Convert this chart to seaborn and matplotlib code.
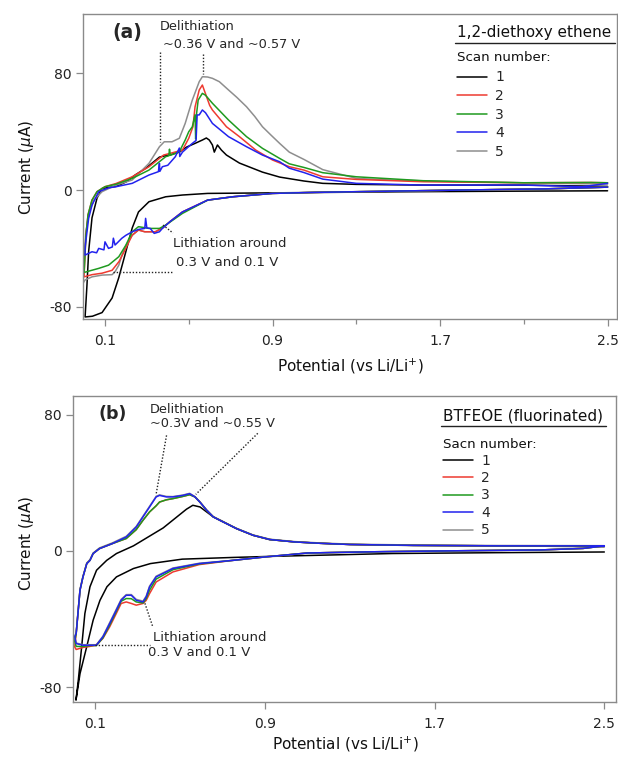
import matplotlib
matplotlib.use("Agg")
import matplotlib.pyplot as plt
from matplotlib.lines import Line2D
import pandas as pd
import seaborn as sns

# ---------------- data : panel (a) 1,2-diethoxy ethene ----------------
a1_cat_v = [2.50, 2.00, 1.50, 1.00, 0.75, 0.59, 0.47, 0.39, 0.31, 0.26, 0.23, 0.20, 0.166, 0.134, 0.086, 0.04, 0.005]
a1_cat_i = [-0.5, -0.8, -1.2, -1.8, -2.1, -2.3, -3.4, -4.6, -8.0, -15.0, -26.0, -42.0, -60.0, -74.0, -84.0, -86.5, -87.0]
a1_ano_v = [0.005, 0.014, 0.022, 0.038, 0.062, 0.086, 0.153, 0.20, 0.244, 0.30, 0.36, 0.42, 0.455, 0.49, 0.53, 0.565, 0.584,
            0.598, 0.613, 0.622, 0.637, 0.656, 0.68, 0.742, 0.852, 0.934, 1.05, 1.14, 1.30, 1.62, 2.10, 2.42, 2.50]
a1_ano_i = [-87.0, -65.0, -42.0, -19.0, -5.5, 1.1, 2.5, 5.5, 10.3, 15.5, 22.6, 24.5, 26.0, 29.5, 32.0, 34.3, 35.7,
            34.3, 30.9, 26.0, 30.9, 27.4, 24.0, 18.5, 12.3, 8.9, 6.2, 4.6, 3.9, 3.4, 3.4, 2.7, 2.5]

a2_cat_v = [2.50, 2.20, 1.80, 1.40, 1.10, 0.90, 0.71, 0.59, 0.47, 0.41, 0.375, 0.34, 0.29, 0.26, 0.23, 0.20, 0.167, 0.134, 0.086, 0.038, 0.0]
a2_cat_i = [2.0, 0.8, 0.0, -0.9, -1.6, -2.3, -4.6, -6.9, -15.0, -21.7, -26.0, -28.6, -28.6, -27.4, -30.9, -39.8, -49.0, -55.0, -57.0, -58.0, -59.5]
a2_ano_v = [0.0, 0.003, 0.009, 0.019, 0.038, 0.062, 0.10, 0.153, 0.23, 0.31, 0.38, 0.42, 0.47, 0.50, 0.52, 0.53, 0.55, 0.565,
            0.58, 0.60, 0.613, 0.68, 0.742, 0.82, 0.90, 0.98, 1.05, 1.14, 1.30, 1.62, 2.10, 2.42, 2.50]
a2_ano_i = [-59.5, -49.0, -31.0, -17.0, -6.9, -1.1, 2.3, 4.5, 9.1, 16.0, 24.0, 25.5, 27.4, 35.5, 43.4, 57.0, 68.6, 72.0,
            66.0, 58.0, 54.9, 43.4, 36.6, 27.4, 20.6, 16.0, 13.7, 9.1, 7.3, 5.7, 5.0, 5.2, 5.0]

a3_cat_v = [2.50, 2.20, 1.80, 1.40, 1.10, 0.90, 0.71, 0.59, 0.47, 0.39, 0.36, 0.31, 0.26, 0.23, 0.20, 0.166, 0.117, 0.07, 0.022, 0.0]
a3_cat_i = [2.0, 0.8, 0.0, -0.9, -1.6, -2.3, -4.6, -6.9, -16.0, -24.0, -26.3, -26.3, -25.1, -28.6, -37.7, -45.7, -51.5, -53.7, -55.6, -56.5]
a3_ano_v = [0.0, 0.003, 0.009, 0.019, 0.038, 0.062, 0.10, 0.153, 0.23, 0.31, 0.39, 0.405, 0.408, 0.412, 0.455, 0.483, 0.50,
            0.517, 0.53, 0.533, 0.537, 0.545, 0.565, 0.58, 0.613, 0.69, 0.776, 0.852, 0.934, 0.98, 1.05, 1.14, 1.30,
            1.62, 2.10, 2.42, 2.50]
a3_ano_i = [-56.5, -49.0, -31.0, -17.0, -6.9, -1.1, 2.3, 4.0, 8.0, 13.7, 22.9, 23.5, 28.0, 23.8, 26.3, 34.3, 40.0,
            43.4, 51.5, 35.0, 52.0, 61.7, 66.3, 65.0, 59.5, 48.0, 36.6, 28.6, 21.7, 18.0, 15.5, 11.9, 9.1,
            6.4, 5.0, 5.2, 5.0]

a4_cat_v = [2.50, 2.20, 1.80, 1.40, 1.10, 0.90, 0.71, 0.59, 0.47, 0.41, 0.374, 0.36, 0.335, 0.316, 0.30, 0.294, 0.29,
            0.26, 0.23, 0.20, 0.18, 0.16, 0.148, 0.14, 0.135, 0.117, 0.10, 0.095, 0.07, 0.06, 0.038, 0.004]
a4_cat_i = [2.0, 0.8, 0.0, -0.9, -1.6, -2.3, -4.6, -6.9, -15.0, -21.7, -26.3, -28.6, -29.7, -26.3, -26.0, -19.4, -26.3,
            -27.0, -28.6, -31.0, -33.1, -36.0, -37.7, -33.0, -39.0, -40.0, -35.5, -41.0, -40.0, -43.0, -42.3, -44.6]
a4_ano_v = [0.004, 0.006, 0.022, 0.038, 0.07, 0.117, 0.153, 0.23, 0.31, 0.355, 0.360, 0.362, 0.374, 0.40, 0.436, 0.455,
            0.457, 0.47, 0.517, 0.535, 0.540, 0.55, 0.565, 0.58, 0.613, 0.69, 0.776, 0.852, 0.934, 0.98, 1.05, 1.14,
            1.30, 1.62, 2.10, 2.38, 2.50]
a4_ano_i = [-44.6, -38.0, -19.4, -10.3, -1.1, 1.5, 2.3, 4.6, 10.3, 12.6, 18.3, 12.8, 16.0, 17.0, 22.9, 28.8,
            23.0, 26.0, 32.0, 34.0, 51.5, 51.5, 54.9, 53.0, 45.7, 36.6, 29.7, 24.0, 19.4, 15.0, 12.0, 7.5,
            4.6, 3.4, 3.4, 2.3, 4.6]

a5_cat_v = [2.50, 2.20, 1.80, 1.40, 1.10, 0.90, 0.71, 0.59, 0.47, 0.41, 0.375, 0.34, 0.29, 0.26, 0.23, 0.20, 0.18,
            0.166, 0.148, 0.134, 0.086, 0.038, 0.004, -0.005]
a5_cat_i = [2.0, 0.8, 0.0, -0.9, -1.6, -2.3, -4.6, -6.9, -15.0, -21.7, -26.0, -28.6, -28.6, -27.4, -31.0, -38.0, -45.0,
            -51.5, -56.0, -58.0, -58.3, -59.5, -61.7, -64.0]
a5_ano_v = [-0.005, 0.0, 0.008, 0.023, 0.047, 0.086, 0.153, 0.23, 0.31, 0.36, 0.383, 0.42, 0.455, 0.483, 0.517, 0.55,
            0.565, 0.59, 0.613, 0.646, 0.69, 0.73, 0.776, 0.815, 0.852, 0.894, 0.934, 0.98, 1.05, 1.14, 1.30, 1.46,
            1.78, 2.26, 2.50]
a5_ano_i = [-64.0, -52.6, -29.7, -16.0, -6.9, -1.1, 3.4, 6.9, 18.3, 29.7, 33.1, 33.1, 35.5, 45.7, 61.7, 74.3,
            77.7, 77.5, 76.6, 74.3, 68.6, 63.5, 57.1, 50.5, 43.4, 37.5, 32.0, 26.0, 21.0, 14.0, 8.0, 6.9,
            5.7, 4.6, 4.1]

# ---------------- data : panel (b) BTFEOE (fluorinated) ----------------
b1_cat_v = [2.50, 2.00, 1.50, 1.16, 0.92, 0.75, 0.51, 0.36, 0.28, 0.20, 0.155, 0.122, 0.09, 0.06, 0.028, 0.009]
b1_cat_i = [-0.6, -1.0, -1.5, -2.5, -3.2, -3.8, -4.8, -7.4, -10.3, -15.2, -21.0, -29.0, -40.6, -56.0, -72.0, -87.5]
b1_ano_v = [0.009, 0.02, 0.036, 0.051, 0.075, 0.106, 0.154, 0.20, 0.28, 0.34, 0.42, 0.48, 0.53, 0.56, 0.594, 0.625,
            0.656, 0.69, 0.766, 0.844, 0.92, 1.04, 1.16, 1.30, 1.60, 2.00, 2.50]
b1_ano_i = [-87.5, -75.8, -56.0, -36.7, -21.0, -11.3, -5.5, -1.5, 3.0, 7.5, 13.5, 19.5, 24.5, 26.8, 25.8, 22.9,
            20.0, 18.0, 13.1, 9.2, 6.7, 5.3, 4.5, 3.8, 3.2, 3.0, 2.5]

b_cat_v = [2.50, 2.40, 2.20, 1.80, 1.40, 1.10, 0.90, 0.75, 0.59, 0.466, 0.387, 0.356, 0.34, 0.325, 0.293, 0.27, 0.246,
           0.222, 0.199, 0.168, 0.136, 0.105, 0.074, 0.042, 0.01, 0.003]
b2_cat_i = [3.0, 1.5, 0.6, 0.1, -0.5, -1.2, -3.5, -5.5, -8.0, -12.3, -18.2, -25.0, -29.0, -30.8, -31.8, -30.8, -29.9,
            -30.8, -36.7, -44.5, -51.3, -55.3, -56.0, -56.6, -57.8, -56.3]
b3_cat_i = [3.0, 1.5, 0.6, 0.1, -0.5, -1.2, -3.5, -5.5, -7.6, -11.0, -16.5, -23.0, -28.0, -30.5, -29.9, -28.0, -27.9,
            -29.5, -35.5, -43.5, -51.0, -55.5, -55.5, -56.0, -56.0, -53.0]
b4_cat_i = [3.0, 1.5, 0.6, 0.1, -0.5, -1.2, -3.5, -5.5, -7.4, -10.3, -15.2, -21.1, -27.0, -29.9, -28.9, -26.0, -26.0,
            -28.9, -34.8, -42.6, -50.4, -55.3, -55.3, -55.3, -54.3, -50.4]
b5_cat_i = [3.0, 1.5, 0.6, 0.1, -0.5, -1.2, -3.5, -5.5, -7.2, -10.0, -14.8, -20.6, -26.5, -29.4, -28.4, -25.6, -25.6,
            -28.4, -34.2, -42.0, -50.0, -55.0, -55.0, -55.0, -54.0, -50.0]

b_ano_v = [0.003, 0.01, 0.028, 0.042, 0.06, 0.075, 0.09, 0.12, 0.18, 0.246, 0.293, 0.325, 0.356, 0.387, 0.403, 0.435,
           0.466, 0.513, 0.545, 0.57, 0.593, 0.625, 0.656, 0.687, 0.766, 0.844, 0.923, 1.04, 1.16, 1.30, 1.60, 2.00, 2.50]
b2_ano_i = [-56.3, -48.4, -23.0, -15.2, -7.4, -5.5, -1.5, 1.4, 4.3, 7.3, 12.5, 18.0, 22.9, 26.5, 28.7, 30.0,
            30.7, 32.0, 33.0, 31.7, 28.7, 23.9, 20.0, 18.0, 13.1, 9.2, 6.7, 5.3, 4.5, 3.8, 3.3, 3.0, 3.0]
b3_ano_i = [-53.0, -48.4, -23.0, -15.2, -7.4, -5.5, -1.5, 1.4, 4.3, 7.3, 12.5, 18.0, 22.9, 26.5, 28.7, 30.0,
            30.7, 32.0, 33.0, 31.7, 28.7, 23.9, 20.0, 18.0, 13.1, 9.2, 6.7, 5.3, 4.5, 3.8, 3.3, 3.0, 3.0]
b4_ano_i = [-50.4, -48.4, -23.0, -15.2, -7.4, -5.5, -1.5, 1.4, 4.3, 8.2, 14.0, 20.0, 25.8, 31.7, 32.6, 31.7,
            31.7, 32.6, 33.6, 31.7, 28.7, 23.9, 20.0, 18.0, 13.1, 9.2, 6.7, 5.3, 4.5, 3.8, 3.3, 3.0, 3.0]
b5_ano_i = [-50.0, -48.0, -22.6, -14.8, -7.0, -5.1, -1.2, 1.8, 4.7, 8.6, 14.4, 20.4, 26.2, 32.0, 32.9, 32.0,
            31.9, 32.8, 33.8, 31.9, 28.9, 24.1, 20.2, 18.2, 13.3, 9.4, 6.9, 5.5, 4.7, 4.0, 3.5, 3.2, 3.1]

scan_labels = ["1", "2", "3", "4", "5"]
scan_colors = ["#000000", "#ee3a30", "#1f9a1f", "#2222ee", "#8e8e8e"]
draw_order = ["1", "5", "2", "3", "4"]

panel_a = {
    "1": (a1_cat_v, a1_cat_i, a1_ano_v, a1_ano_i),
    "2": (a2_cat_v, a2_cat_i, a2_ano_v, a2_ano_i),
    "3": (a3_cat_v, a3_cat_i, a3_ano_v, a3_ano_i),
    "4": (a4_cat_v, a4_cat_i, a4_ano_v, a4_ano_i),
    "5": (a5_cat_v, a5_cat_i, a5_ano_v, a5_ano_i),
}
panel_b = {
    "1": (b1_cat_v, b1_cat_i, b1_ano_v, b1_ano_i),
    "2": (b_cat_v, b2_cat_i, b_ano_v, b2_ano_i),
    "3": (b_cat_v, b3_cat_i, b_ano_v, b3_ano_i),
    "4": (b_cat_v, b4_cat_i, b_ano_v, b4_ano_i),
    "5": (b_cat_v, b5_cat_i, b_ano_v, b5_ano_i),
}


def build(panel):
    rows = []
    for scan in draw_order:
        vc, ic, va, ia = panel[scan]
        v = list(vc) + list(va)
        i = list(ic) + list(ia)
        for k, (x, y) in enumerate(zip(v, i)):
            rows.append((x, y, scan, k))
    return pd.DataFrame(rows, columns=["V", "I", "scan", "k"])


sns.set_style("white")
plt.rcParams["font.family"] = ["DejaVu Sans"]
plt.rcParams["mathtext.fontset"] = "dejavusans"

W, H = 618, 758
fig = plt.figure(figsize=(W / 100, H / 100), dpi=100)
fig.patch.set_facecolor("white")

ax_a = fig.add_axes([83 / W, 1 - 319 / H, (617 - 83) / W, (319 - 14) / H])
ax_b = fig.add_axes([73 / W, 1 - 702 / H, (616 - 73) / W, (702 - 396) / H])

palette = dict(zip(scan_labels, scan_colors))
spine_col = "#8a8a8a"
dot = (0, (1, 1.3))
LW = 1.1


def style(ax, xlim, ylim, minor):
    ax.set_xlim(*xlim)
    ax.set_ylim(*ylim)
    ax.set_xlabel("")
    ax.set_ylabel("")
    ax.set_xticks([0.1, 0.9, 1.7, 2.5])
    ax.set_xticklabels(["0.1", "0.9", "1.7", "2.5"])
    if minor:
        ax.set_xticks([0.5, 1.3, 2.1], minor=True)
    ax.set_yticks([-80, 0, 80])
    ax.set_yticklabels(["-80", "0", "80"])
    for s in ax.spines.values():
        s.set_color(spine_col)
        s.set_linewidth(1.0)
        s.set_visible(True)
    ax.tick_params(axis="both", which="major", direction="out", length=5, width=0.9,
                   color=spine_col, labelsize=10, labelcolor="#222222", pad=6,
                   bottom=True, left=True)
    ax.tick_params(axis="x", which="minor", direction="out", length=3.5, width=0.9,
                   color=spine_col, bottom=True)
    ax.tick_params(axis="y", which="major", pad=3)
    ax.grid(False)


def draw(ax, panel):
    df = build(panel)
    sns.lineplot(data=df, x="V", y="I", hue="scan", hue_order=draw_order, palette=palette,
                 sort=False, estimator=None, linewidth=LW, legend=False, ax=ax)


def legend(ax, title, sub, x0, y_title, y_line, y_sub, x_end, y_leg, spacing):
    ax.text(x0, y_title, title, transform=ax.transAxes, fontsize=11, ha="left", va="center",
            color="#111111")
    ax.plot([x0 - 0.003, x_end], [y_line, y_line], transform=ax.transAxes, color="#222222",
            lw=1.0, clip_on=False)
    ax.text(x0 + 0.001, y_sub, sub, transform=ax.transAxes, fontsize=9.6, ha="left",
            va="center", color="#111111")
    handles = [Line2D([], [], color=c, lw=LW) for c in scan_colors]
    ax.legend(handles, scan_labels, loc="upper left", bbox_to_anchor=(x0, y_leg),
              frameon=False, fontsize=10, handlelength=2.15, handletextpad=0.6,
              labelspacing=spacing, borderpad=0, borderaxespad=0)


# ---------------- panel (a) ----------------
draw(ax_a, panel_a)
style(ax_a, (-0.005, 2.545), (-88.4, 120.7), True)
ax_a.text(0.205, 107.7, "(a)", fontsize=13.5, fontweight="bold", ha="center", va="center")
ax_a.text(0.363, 111.8, "Delithiation", fontsize=9.3, ha="left", va="center")
ax_a.text(0.377, 100.1, "~0.36 V and ~0.57 V", fontsize=9.3, ha="left", va="center")
ax_a.plot([0.363, 0.363], [94.6, 32.9], color="#222222", lw=1.0, ls=dot)
ax_a.plot([0.568, 0.568], [93.3, 79.5], color="#222222", lw=1.0, ls=dot)
ax_a.text(0.425, -36.3, "Lithiation around", fontsize=9.5, ha="left", va="center")
ax_a.text(0.439, -49.4, "0.3 V and 0.1 V", fontsize=9.5, ha="left", va="center")
ax_a.plot([0.377, 0.425], [-24.0, -29.5], color="#222222", lw=1.0, ls=dot)
ax_a.plot([0.138, 0.425], [-56.2, -56.2], color="#222222", lw=1.0, ls=dot)
legend(ax_a, "1,2-diethoxy ethene", "Scan number:", 0.700, 0.938, 0.905, 0.856, 0.996, 0.815, 0.33)

# ---------------- panel (b) ----------------
draw(ax_b, panel_b)
style(ax_b, (-0.005, 2.555), (-88.6, 90.9), False)
ax_b.text(0.183, 80.1, "(b)", fontsize=12.5, fontweight="bold", ha="center", va="center")
ax_b.text(0.358, 83.1, "Delithiation", fontsize=9.3, ha="left", va="center")
ax_b.text(0.358, 74.9, "~0.3V and ~0.55 V", fontsize=9.3, ha="left", va="center")
ax_b.plot([0.436, 0.386], [67.8, 32.7], color="#222222", lw=1.0, ls=dot)
ax_b.plot([0.866, 0.574], [69.0, 33.2], color="#222222", lw=1.0, ls=dot)
ax_b.text(0.372, -50.6, "Lithiation around", fontsize=9.5, ha="left", va="center")
ax_b.text(0.348, -59.4, "0.3 V and 0.1 V", fontsize=9.5, ha="left", va="center")
ax_b.plot([0.334, 0.372], [-30.7, -44.8], color="#222222", lw=1.0, ls=dot)
ax_b.plot([0.099, 0.358], [-55.3, -55.3], color="#222222", lw=1.0, ls=dot)
legend(ax_b, "BTFEOE (fluorinated)", "Sacn number:", 0.681, 0.935, 0.902, 0.843, 0.982, 0.812, 0.25)

# ---------------- axis titles ----------------
for yc in (167, 543):
    fig.text(26 / W, 1 - yc / H, "Current ($\\mu$A)", rotation=90, ha="center", va="center",
             fontsize=11, color="#111111")
fig.text(350 / W, 1 - 366 / H, "Potential (vs Li/Li$^{+}$)", ha="center", va="center",
         fontsize=11, color="#111111")
fig.text(345 / W, 1 - 744 / H, "Potential (vs Li/Li$^{+}$)", ha="center", va="center",
         fontsize=11, color="#111111")

fig.savefig("out.png", dpi=100, facecolor="white")
